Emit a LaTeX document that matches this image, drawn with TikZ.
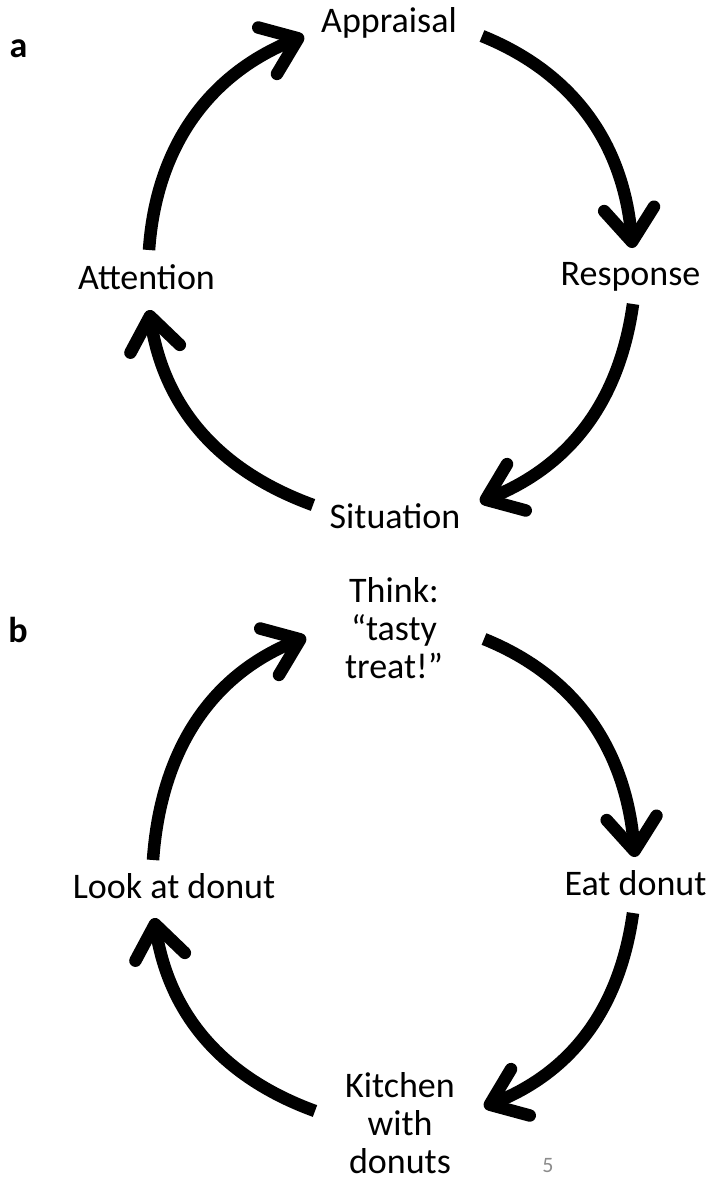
\documentclass[tikz,border=0pt]{standalone}
\usepackage{fontspec}
\setmainfont{Carlito}
\usetikzlibrary{arrows.meta}

\begin{document}
\begin{tikzpicture}[
    x = 1pt, y = 1pt,
    > = {Straight Barb[length=33pt, width=50pt, round]}, % open chevron heads
    lbl/.style={font=\fontsize{36}{38}\selectfont, align=center, inner sep=0pt, anchor=base},
    tag/.style={font=\fontsize{36}{38}\selectfont\bfseries, inner sep=0pt, anchor=base},
    cyc/.style={->, line width=12.5pt}
]
\useasboundingbox (0,0) rectangle (711,-1181);

% --- PANEL a: the general cycle ---
\node[tag] (taga) at (18.5,-57) {a};
\node[lbl] (appraisal) at (389,-32) {Appraisal};
\node[lbl] (response) at (630.5,-285) {Response};
\node[lbl] (situation) at (395,-528) {Situation};
\node[lbl] (attention) at (146.5,-289) {Attention};

\draw[cyc] ([shift={(93,-4)}]appraisal.base) to[out=-22, in=95] ([shift={(2,37)}]response.base);
\draw[cyc] ([shift={(2.5,-19)}]response.base) to[out=-98, in=22] ([shift={(85,26)}]situation.base);
\draw[cyc] ([shift={(-82,23)}]situation.base) to[out=160, in=-81] ([shift={(2.5,-21)}]attention.base);
\draw[cyc] ([shift={(2.5,39)}]attention.base) to[out=86, in=-158] ([shift={(-85,-4)}]appraisal.base);

% --- PANEL b: the donut example ---
\node[tag] (tagb) at (18,-642) {b};
\node[lbl] (think) at (394,-678) {Think:\\“tasty\\treat!”};
\node[lbl] (eat) at (635.5,-895) {Eat donut};
\node[lbl] (kitchen) at (400,-1173) {Kitchen\\with\\donuts};
\node[lbl] (look) at (174,-898) {Look at donut};

\draw[cyc] ([shift={(90,39)}]think.base) to[out=-22, in=95] ([shift={(-0.5,38)}]eat.base);
\draw[cyc] ([shift={(-2.5,-18)}]eat.base) to[out=-98, in=22] ([shift={(84,66)}]kitchen.base);
\draw[cyc] ([shift={(-85,62)}]kitchen.base) to[out=160, in=-81] ([shift={(-20,-20)}]look.base);
\draw[cyc] ([shift={(-21,38)}]look.base) to[out=86, in=-158] ([shift={(-88,41)}]think.base);

% page number
\node[font=\fontsize{22}{24}\selectfont, text=black!45, inner sep=0pt, anchor=base] (page) at (548,-1172) {5};

\end{tikzpicture}
\end{document}
